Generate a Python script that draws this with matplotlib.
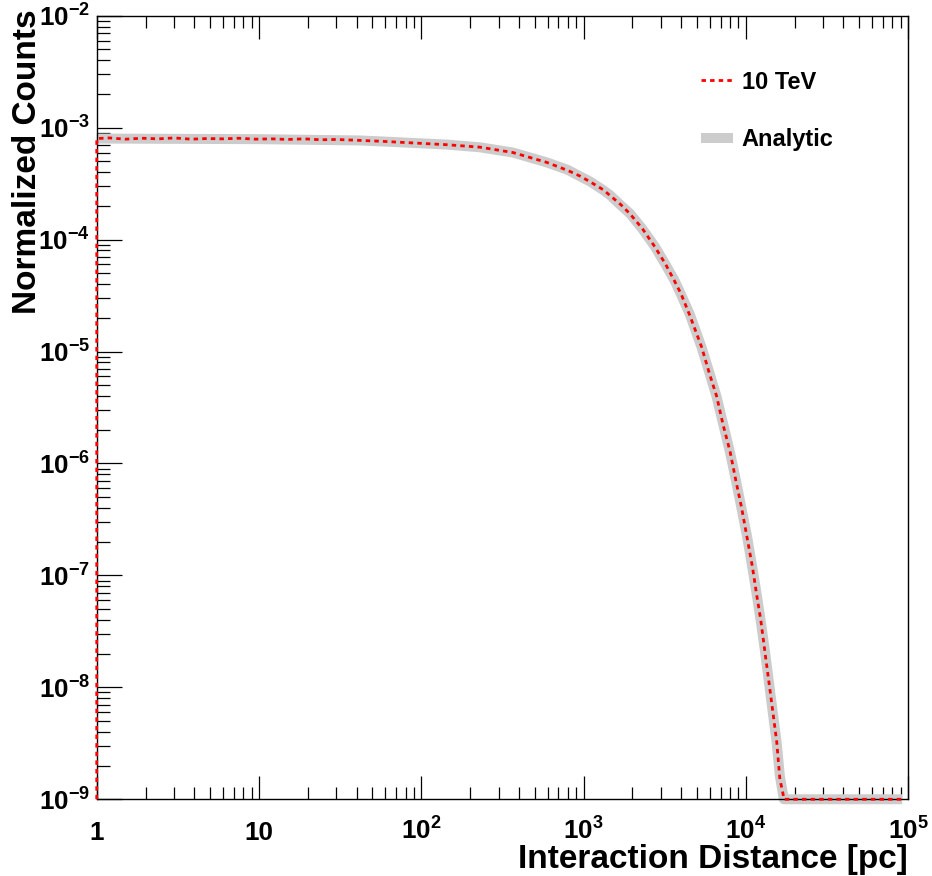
import matplotlib
matplotlib.use("Agg")
from matplotlib import pyplot as plt
from matplotlib.lines import Line2D

# Values (log-log), interaction distance in pc
analytic_x = [1, 3, 10, 42, 58, 143, 230, 367, 593, 800, 950, 1100, 1318,
              1456, 1700, 1933, 2300, 2755, 3200, 3658, 4000, 4519, 5340, 6000,
              6607, 7256, 8000, 8690, 9400, 10200, 11000, 11670, 12400, 13130,
              14090, 15500, 16230, 17170, 92000]
analytic_y = [8.0e-4, 7.95e-4, 7.9e-4, 7.69e-4, 7.53e-4, 7.07e-4, 6.68e-4,
              6.0e-4, 4.9e-4, 4.2e-4, 3.68e-4, 3.3e-4, 2.78e-4, 2.5e-4,
              2.02e-4, 1.71e-4, 1.25e-4, 8.65e-5, 6.0e-5, 4.25e-5, 3.2e-5,
              2.15e-5, 1.09e-5, 6.3e-6, 3.95e-6, 2.25e-6, 1.25e-6, 7.1e-7,
              4.0e-7, 2.2e-7, 1.15e-7, 6.8e-8, 3.8e-8, 2.1e-8, 9.4e-9,
              3.2e-9, 1.6e-9, 1.0e-9, 1.0e-9]

hist_x = [1, 1, 1.2, 1.5, 1.9, 2.4, 3.0, 3.8, 4.8, 6.0, 7.5, 9.5, 12, 15, 19,
          24, 30, 42, 58, 143, 230, 367, 593, 800, 950, 1100, 1318, 1456, 1700,
          1933, 2300, 2755, 3200, 3658, 4000, 4519, 5340, 6000, 6607, 7256,
          8000, 8690, 9400, 10200, 11000, 11670, 12400, 13130, 14090, 15500,
          16230, 16800, 17200, 92000]
hist_y = [1.0e-9, 8.0e-4, 8.1e-4, 7.9e-4, 8.05e-4, 7.95e-4, 8.1e-4, 7.9e-4,
          8.0e-4, 7.95e-4, 8.05e-4, 7.9e-4, 7.95e-4, 7.85e-4, 7.95e-4, 7.8e-4,
          7.85e-4, 7.7e-4, 7.55e-4, 7.05e-4, 6.7e-4, 6.0e-4, 4.9e-4, 4.15e-4,
          3.7e-4, 3.28e-4, 2.8e-4, 2.48e-4, 2.05e-4, 1.7e-4, 1.26e-4, 8.6e-5,
          6.05e-5, 4.2e-5, 3.25e-5, 2.1e-5, 1.1e-5, 6.2e-6, 4.0e-6, 2.2e-6,
          1.28e-6, 7.0e-7, 4.1e-7, 2.15e-7, 1.18e-7, 6.7e-8, 3.9e-8, 2.05e-8,
          9.5e-9, 3.3e-9, 1.5e-9, 1.2e-9, 1.0e-9, 1.0e-9]

x_ticks = [1, 10, 1e2, 1e3, 1e4, 1e5]
x_tick_labels = ["1", "10", r"$10^{2}$", r"$10^{3}$", r"$10^{4}$", r"$10^{5}$"]
y_ticks = [1e-9, 1e-8, 1e-7, 1e-6, 1e-5, 1e-4, 1e-3, 1e-2]
y_tick_labels = [r"$10^{-%d}$" % k for k in range(9, 1, -1)]

plt.rcParams["font.family"] = ["Liberation Sans", "DejaVu Sans"]
plt.rcParams["font.weight"] = "bold"
plt.rcParams["mathtext.fontset"] = "custom"
plt.rcParams["mathtext.rm"] = "Liberation Sans:bold"
plt.rcParams["mathtext.it"] = "Liberation Sans:bold"
plt.rcParams["mathtext.bf"] = "Liberation Sans:bold"
plt.rcParams["mathtext.default"] = "rm"

fig = plt.figure(figsize=(9.32, 8.76), dpi=100)
ax = fig.add_axes([0.1038, 0.0876, 0.8705, 0.8944])

ax.plot(analytic_x, analytic_y, color="#cccccc", lw=7.2,
        solid_capstyle="butt", solid_joinstyle="round", clip_on=False, zorder=2)
ax.plot(hist_x, hist_y, color="#ff0000", lw=2.0, dashes=(1.6, 1.5),
        clip_on=False, zorder=3)

ax.set_xscale("log")
ax.set_yscale("log")
ax.set_xlim(1, 1e5)
ax.set_ylim(1e-9, 1e-2)

ax.set_xticks(x_ticks)
ax.set_xticklabels(x_tick_labels, va="baseline")
ax.set_yticks(y_ticks)
ax.set_yticklabels(y_tick_labels)
ax.xaxis.set_minor_locator(matplotlib.ticker.LogLocator(base=10, subs=range(2, 10), numticks=20))
ax.yaxis.set_minor_locator(matplotlib.ticker.LogLocator(base=10, subs=range(2, 10), numticks=20))
ax.xaxis.set_minor_formatter(matplotlib.ticker.NullFormatter())
ax.yaxis.set_minor_formatter(matplotlib.ticker.NullFormatter())

ax.tick_params(axis="x", which="major", direction="in", length=16.5, width=0.9,
               top=True, bottom=True, labelsize=18.7, pad=29.3)
ax.tick_params(axis="x", which="minor", direction="in", length=8.4, width=0.9,
               top=True, bottom=True)
ax.tick_params(axis="y", which="major", direction="in", length=18, width=0.9,
               left=True, right=False, labelsize=18.7, pad=4.8)
ax.tick_params(axis="y", which="minor", direction="in", length=9, width=0.9,
               left=True, right=False)
for s in ax.spines.values():
    s.set_linewidth(1.0)

ax.set_xlabel("Interaction Distance [pc]", fontsize=24, fontweight="bold")
ax.xaxis.set_label_coords(1.0, -0.0877)
ax.xaxis.label.set_ha("right")
ax.xaxis.label.set_va("baseline")

ax.set_ylabel("Normalized Counts", fontsize=24, fontweight="bold")
ax.yaxis.set_label_coords(-0.0859, 1.008)
ax.yaxis.label.set_ha("right")
ax.yaxis.label.set_va("center")

handles = [
    Line2D([0], [0], color="#ff0000", lw=2.0, dashes=(1.6, 1.5)),
    Line2D([0], [0], color="#cccccc", lw=7.2, solid_capstyle="butt"),
]
ax.legend(handles, ["10 TeV", "Analytic"], loc="upper left",
          bbox_to_anchor=(0.7445, 0.930), frameon=False, borderpad=0,
          borderaxespad=0, handlelength=1.37, handletextpad=0.37,
          labelspacing=1.46, prop={"weight": "bold", "size": 17})

fig.savefig("out.png", dpi=100)
